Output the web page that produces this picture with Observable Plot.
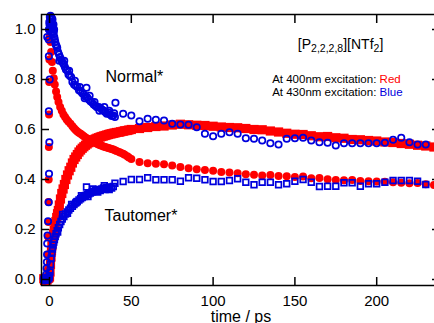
<!DOCTYPE html>
<html><head><meta charset="utf-8">
<script src="https://cdn.jsdelivr.net/npm/d3@7"></script>
<script src="https://cdn.jsdelivr.net/npm/@observablehq/plot@0.6"></script>
<style>
html,body{margin:0;padding:0;overflow:hidden;background:#fff;}
#chart svg{max-width:none !important;display:block;}
</style></head><body><div id="chart"></div>
<script>
// ---------- data ----------
const xTicks = [0, 50, 100, 150, 200];
const yTicks = [0, 0.2, 0.4, 0.6, 0.8, 1.0];

// Normal* at 400 nm (red filled circles)
const redNormT = [-3.5,-3,-2.5,-2,-1.5,-1.0,-0.9,-0.8,-0.7,-0.6,-0.5,-0.4,-0.3,-0.2,-0.1,0.1,0.3,
  0.6,1.0,1.5,2.0,2.6,3.2,4.0,4.7,5.5,6.5,7.5,8.5,9.5,10.5,11.5,12.8,
  14,15,16,17,18,19,20,21,22,23,24,25,26,27,28,30,32,34,36,38,40,42.5,45,47.5,
  29,31,33,35,37,39,41,43.5,46,48.5,
  50,55,60,65,70,75,80,85,90,95,100,105,110,115,120,125,130,135,140,145,150,155,160,165,170,175,180,185,190,195,200,205,210,215,220,225,230,235];
const redNormV = [0.004,-0.003,0.005,0.002,0.01,0.04,0.10,0.17,0.23,0.31,0.40,0.53,0.66,0.79,0.88,0.97,1.0,
  0.95,0.91,0.87,0.835,0.805,0.78,0.752,0.73,0.71,0.69,0.675,0.66,0.65,0.64,0.632,0.623,
  0.613,0.605,0.598,0.592,0.587,0.583,0.578,0.573,0.568,0.564,0.56,0.556,0.552,0.549,0.546,0.54,0.535,0.53,0.526,0.522,0.517,0.51,0.503,0.493,
  0.543,0.537,0.532,0.528,0.524,0.52,0.514,0.507,0.499,0.488,
  0.482,0.47,0.465,0.463,0.461,0.456,0.45,0.445,0.441,0.438,0.435,0.43,0.428,0.425,0.421,0.419,0.416,0.418,0.414,0.413,0.41,0.412,0.405,0.406,0.401,0.398,0.397,0.398,0.394,0.393,0.392,0.391,0.389,0.387,0.385,0.386,0.381,0.378];

// Tautomer* at 400 nm (red filled squares)
const redTautT = [-3.5,-3,-2.5,-2,-1.5,-1,-0.5,
  0,0.3,0.6,0.9,1.2,1.5,1.8,2.1,2.5,2.9,3.4,3.9,4.4,4.9,5.4,6.0,6.7,7.5,8.3,9.1,10,11,12,13,
  14,15,16,17,18,19,20,21,22,23,24,25,26,27,28,30,32,34,36,38,40,42.5,45,47.5,
  29,31,33,35,37,39,41,43.5,46,48.5,
  50,55,60,65,70,75,80,85,90,95,100,105,110,115,120,125,130,135,140,145,150,155,160,165,170,175,180,185,190,195,200,205,210,215,220,225,230,235];
const redTautV = [0.003,-0.004,0.002,0.005,-0.002,0.004,0.006,
  0.01,0.03,0.06,0.09,0.115,0.135,0.152,0.168,0.183,0.196,0.215,0.232,0.248,0.263,0.276,0.298,0.322,0.344,0.362,0.38,0.4,0.418,0.435,0.449,
  0.466,0.48,0.49,0.5,0.51,0.518,0.525,0.531,0.537,0.542,0.547,0.552,0.556,0.559,0.562,0.567,0.572,0.576,0.58,0.583,0.586,0.589,0.593,0.596,
  0.565,0.57,0.574,0.578,0.582,0.585,0.588,0.591,0.595,0.598,
  0.6,0.604,0.608,0.612,0.614,0.618,0.621,0.619,0.617,0.616,0.613,0.61,0.608,0.607,0.604,0.6,0.599,0.594,0.59,0.585,0.581,0.58,0.575,0.571,0.572,0.567,0.565,0.56,0.559,0.556,0.554,0.55,0.548,0.544,0.541,0.537,0.534,0.53];

// Normal* at 430 nm (blue open circles)
const blueNormT = [-3.5,-3,-2.5,-2.2,-2.0,-1.8,-1.6,-1.5,-1.4,-1.2,-0.9,-0.5,-0.3,-0.1,-0.4,0.1,-0.4,-1.4,
  -0.5,-0.3,-0.1,-0.2,0.0,0.2,0.6,1.0,1.4,1.8,2.4,2.8,
  0.3,0.5,0.7,0.9,1.1,1.3,1.5,1.7,1.9,2.1,2.3,2.6,2.9,3.2,3.5,3.8,4.2,4.7,5.2,5.8,
  6.4,7,7.6,8.2,8.8,9.4,10,10.8,11.6,12.4,13.2,14,15,16,17,18,19,20,21,22,
  22.6,23,24,25,26,27,28,29,30,31,32,33,34,35,36,37,38,39,40,40.3,45,
  6,9,12,15.5,18.5,21.5,24.5,27.5,30.5,33.5,36.5,39.5,
  50,55,60,65,70,75,80,85,90,95,100,105,110,115,120,125,130,135,140,
  145,150,155,160,165,170,175,180,185,190,195,200,205,210,215,220,225,230];
const blueNormV = [0.003,-0.004,0.005,0.0,0.02,0.045,0.07,0.1,0.144,0.176,0.233,0.309,0.423,0.549,0.673,0.8,0.893,0.97,
  0.96,1.0,1.03,1.0,1.02,1.05,1.055,1.05,1.045,1.04,1.02,1.0,
  1.0,1.03,1.02,1.04,1.01,1.03,1.0,1.02,0.99,1.01,0.98,0.99,0.97,0.96,0.95,0.94,0.935,0.927,0.91,0.9,
  0.89,0.88,0.875,0.866,0.86,0.85,0.84,0.836,0.82,0.815,0.81,0.79,0.78,0.775,0.77,0.757,0.753,0.745,0.74,0.732,
  0.767,0.729,0.72,0.713,0.708,0.70,0.695,0.689,0.69,0.687,0.68,0.676,0.67,0.663,0.668,0.66,0.654,0.656,0.65,0.707,0.663,
  0.875,0.875,0.835,0.795,0.77,0.725,0.735,0.71,0.675,0.69,0.675,0.665,
  0.656,0.633,0.643,0.639,0.636,0.623,0.62,0.619,0.609,0.583,0.573,0.583,0.589,0.583,0.565,0.563,0.556,0.545,0.54,
  0.563,0.565,0.567,0.556,0.549,0.547,0.536,0.545,0.545,0.545,0.545,0.545,0.547,0.559,0.567,0.549,0.54,0.54];

// Tautomer* at 430 nm (blue open squares)
const blueTautT = [-3.5,-3.2,-2.9,-2.6,-2.3,-2.0,-1.7,-1.4,-1.1,-0.8,-0.5,-0.2,
  0,0.3,0.6,1.0,1.4,1.8,2.2,2.6,3.0,3.5,4.0,4.7,5.4,6.2,7.0,7.8,8.8,9.8,10.8,
  11.8,12.8,14,15,16,17,18,19,20,21,22,22.6,23,24,25,26,27,28,29,30,
  31,32,33,34,35,36,37,38,39,40,45,
  5,8,11,13.5,16.5,19.5,23.5,26.5,29.5,33.5,36.5,
  50,55,60,65,70,75,80,85,90,95,100,105,110,115,120,125,130,135,140,
  145,150,155,160,165,170,175,180,185,190,195,200,205,210,215,220,225,230];
const blueTautV = [0.0,0.004,-0.003,0.002,0.006,-0.002,0.003,0.008,0.0,0.005,0.004,0.01,
  0.015,0.03,0.06,0.085,0.105,0.122,0.138,0.15,0.16,0.172,0.183,0.195,0.207,0.22,0.232,0.242,0.252,0.262,0.27,
  0.278,0.285,0.293,0.3,0.306,0.312,0.318,0.323,0.328,0.332,0.336,0.37,0.34,0.343,0.346,0.35,0.352,0.355,0.358,0.36,
  0.356,0.362,0.366,0.36,0.368,0.365,0.37,0.366,0.372,0.385,0.392,
  0.19,0.26,0.265,0.3,0.31,0.335,0.332,0.362,0.35,0.375,0.36,
  0.4,0.4,0.407,0.399,0.399,0.399,0.393,0.407,0.405,0.399,0.392,0.392,0.396,0.403,0.389,0.379,0.389,0.389,0.379,
  0.383,0.393,0.4,0.389,0.372,0.373,0.373,0.387,0.387,0.373,0.383,0.383,0.389,0.396,0.396,0.396,0.393,0.38];

const annoNormal = "Normal*";
const annoTaut = "Tautomer*";
const titleParts = ["[P", "2,2,2,8", "][NTf", "2", "]"];
const titleSub = [false, true, false, true, false];
const legendPrefix = ["At 400nm excitation: ", "At 430nm excitation: "];
const legendWord = ["Red", "Blue"];
const xLabel = "time / ps";

// ---------- build ----------
const RED = "#ff0000", BLUE = "#0000dd";
const zip = (T, V) => T.slice(0, Math.min(T.length, V.length)).map((t, i) => ({t, v: V[i]}));
const redNorm = zip(redNormT, redNormV);
const redTaut = zip(redTautT, redTautV);
const blueNorm = zip(blueNormT, blueNormV);
const blueTaut = zip(blueTautT, blueTautV);
const titleText = titleParts.join("");
const legendLines = legendPrefix.map((p, i) => p + legendWord[i]);

const W = 440, H = 323, mL = 41, mT = 14, mB = 38, mR = 0;
const innerW = W - mL - mR, innerH = H - mT - mB;
const FONT = "'Liberation Sans', Arial, Helvetica, sans-serif";

const plot = Plot.plot({
  width: W, height: H,
  marginLeft: mL, marginTop: mT, marginBottom: mB, marginRight: mR,
  style: {fontFamily: FONT, fontSize: "15px", background: "white", color: "black", maxWidth: "none", overflow: "hidden"},
  x: {domain: [-4.9, 239]},
  y: {domain: [-0.024, 1.06]},
  marks: [
    Plot.dot(redTaut, {x: "t", y: "v", symbol: "square", r: 5.2, fill: RED, stroke: "none"}),
    Plot.dot(redNorm, {x: "t", y: "v", r: 4, fill: RED, stroke: "none"}),
    Plot.dot(blueTaut, {x: "t", y: "v", symbol: "square", r: 3.2, fill: "none", stroke: BLUE, strokeWidth: 1.7}),
    Plot.dot(blueNorm, {x: "t", y: "v", r: 3.2, fill: "none", stroke: BLUE, strokeWidth: 1.7}),
    Plot.frame({stroke: "black", strokeWidth: 1.5}),
    Plot.ruleX(xTicks, {insetTop: innerH - 8, stroke: "black", strokeWidth: 1.5}),
    Plot.ruleX(xTicks, {insetBottom: innerH - 9, stroke: "black", strokeWidth: 1.5}),
    Plot.ruleY(yTicks, {insetRight: innerW - 8, stroke: "black", strokeWidth: 1.5}),
    Plot.ruleY(yTicks, {insetLeft: innerW - 8, stroke: "black", strokeWidth: 1.5}),
    Plot.axisX(xTicks, {anchor: "bottom", tickSize: 0, tickPadding: 10, fontSize: 15, label: null, tickFormat: d => String(d)}),
    Plot.axisY(yTicks, {anchor: "left", tickSize: 0, tickPadding: 6, fontSize: 15, label: null, tickFormat: d3.format(".1f")}),
    Plot.text([annoNormal], {x: 34.2, y: 0.812, textAnchor: "start", lineAnchor: "middle", fontSize: 16, fill: "black"}),
    Plot.text([annoTaut], {x: 33.6, y: 0.254, textAnchor: "start", lineAnchor: "middle", fontSize: 16, fill: "black"}),
    Plot.text([titleText], {x: 151.8, y: 0.938, textAnchor: "start", lineAnchor: "middle", fontSize: 14, fill: "black"}),
    Plot.text(legendLines, {x: 136.1, y: [0.8016, 0.748], textAnchor: "start", lineAnchor: "middle", fontSize: 11.5, fill: "black"}),
    Plot.text([xLabel], {frameAnchor: "bottom", lineAnchor: "top", dy: 25, fontSize: 16, fill: "black"})
  ]
});

// rich text: subscripts and coloured words
const NS = "http://www.w3.org/2000/svg";
plot.querySelectorAll("text").forEach(el => {
  const s = el.textContent;
  if (s === titleText) {
    el.textContent = "";
    let down = false;
    titleParts.forEach((p, i) => {
      const ts = document.createElementNS(NS, "tspan");
      ts.textContent = p;
      if (titleSub[i]) { ts.setAttribute("font-size", "10.5"); ts.setAttribute("dy", "3"); down = true; }
      else if (down) { ts.setAttribute("dy", "-3"); down = false; }
      el.appendChild(ts);
    });
  }
  const li = legendLines.indexOf(s);
  if (li >= 0) {
    el.textContent = legendPrefix[li];
    const ts = document.createElementNS(NS, "tspan");
    ts.textContent = legendWord[li];
    ts.setAttribute("fill", li === 0 ? RED : BLUE);
    el.appendChild(ts);
  }
});

document.getElementById("chart").appendChild(plot);
</script></body></html>
